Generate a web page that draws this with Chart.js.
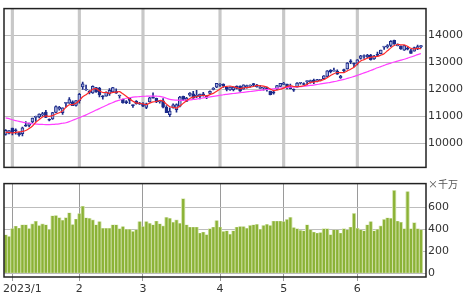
<!DOCTYPE html>
<html>
<head>
<meta charset="utf-8">
<script src="https://cdn.jsdelivr.net/npm/chart.js@4.4.0/dist/chart.umd.min.js"></script>
<style>
  body { margin: 0; background: #fff; }
  #wrap { position: relative; width: 470px; height: 295px; }
  canvas { position: absolute; left: 0; }
</style>
</head>
<body>
<div id="wrap">
  <canvas id="price" width="470" height="176" style="top:0"></canvas>
  <canvas id="vol" width="470" height="120" style="top:175px"></canvas>
</div>
<script>
// trading days (last slot is empty)
const dates = [
  "2022/12/29","2022/12/30",
  "2023/1/3","2023/1/4","2023/1/5","2023/1/6","2023/1/9","2023/1/10","2023/1/11","2023/1/12","2023/1/13","2023/1/17",
  "2023/1/18","2023/1/19","2023/1/20","2023/1/23","2023/1/24","2023/1/25","2023/1/26","2023/1/27","2023/1/30","2023/1/31",
  "2023/2/1","2023/2/2","2023/2/3","2023/2/6","2023/2/7","2023/2/8","2023/2/9","2023/2/10","2023/2/13","2023/2/14",
  "2023/2/15","2023/2/16","2023/2/17","2023/2/21","2023/2/22","2023/2/23","2023/2/24","2023/2/27","2023/2/28",
  "2023/3/1","2023/3/2","2023/3/3","2023/3/6","2023/3/7","2023/3/8","2023/3/9","2023/3/10","2023/3/13","2023/3/14",
  "2023/3/15","2023/3/16","2023/3/17","2023/3/20","2023/3/21","2023/3/22","2023/3/23","2023/3/24","2023/3/27","2023/3/28",
  "2023/3/29","2023/3/30","2023/3/31",
  "2023/4/3","2023/4/4","2023/4/5","2023/4/6","2023/4/10","2023/4/11","2023/4/12","2023/4/13","2023/4/14","2023/4/17",
  "2023/4/18","2023/4/19","2023/4/20","2023/4/21","2023/4/24","2023/4/25","2023/4/26","2023/4/27","2023/4/28",
  "2023/5/1","2023/5/2","2023/5/3","2023/5/4","2023/5/5","2023/5/8","2023/5/9","2023/5/10","2023/5/11","2023/5/12",
  "2023/5/15","2023/5/16","2023/5/17","2023/5/18","2023/5/19","2023/5/22","2023/5/23","2023/5/24","2023/5/25","2023/5/26",
  "2023/5/30","2023/5/31",
  "2023/6/1","2023/6/2","2023/6/5","2023/6/6","2023/6/7","2023/6/8","2023/6/9","2023/6/12","2023/6/13","2023/6/14",
  "2023/6/15","2023/6/16","2023/6/20","2023/6/21","2023/6/22","2023/6/23","2023/6/26","2023/6/27","2023/6/28","2023/6/29",
  "2023/6/30"
];

const opens = [
  10321,10368,10562,10462,10391,10351,10662,10660,10792,10955,10973,11050,11159,10877,10898,11146,11271,11133,11478,11484,
  11538,11400,11582,12086,11976,11907,11867,12069,12042,11727,11744,11829,11905,11913,11754,11631,11522,11694,11402,11554,
  11446,11465,11325,11530,11725,11666,11540,11577,11332,11060,11324,11241,11374,11742,11553,11785,11837,11736,11738,11830,
  11744,11846,12000,12083,12152,12193,12079,11981,11990,12118,12123,12011,12102,12118,12214,12090,12037,12046,12064,11928,
  11910,12017,12111,12183,12192,12083,11974,12084,12226,12191,12288,12282,12340,12303,12331,12392,12479,12707,12674,12680,
  12434,12734,12760,13060,12951,12974,13145,13220,13205,13270,13134,13304,13323,13567,13580,13636,13823,13622,13596,13460,
  13496,13441,13414,13500,13586
];
const highs = [
  10502,10468,10563,10531,10393,10594,10806,10745,10932,11005,11091,11143,11224,10905,11143,11385,11373,11314,11513,11690,
  11572,11586,11849,12269,12155,11950,12128,12073,12075,11765,11907,12029,12073,12022,11790,11639,11578,11700,11418,11585,
  11521,11507,11491,11700,11868,11680,11590,11659,11400,11310,11461,11462,11745,11752,11700,11876,11929,11962,11827,11885,
  11771,11945,12066,12221,12218,12204,12088,12097,12090,12132,12134,12167,12155,12165,12221,12183,12146,12082,12087,11934,
  11962,12150,12228,12263,12194,12197,12023,12250,12264,12242,12318,12344,12380,12374,12371,12510,12698,12731,12793,12722,
  12521,12750,12992,13104,12973,13110,13263,13281,13299,13300,13263,13385,13462,13594,13662,13808,13830,13695,13613,13638,
  13574,13485,13567,13640,13631
];
const lows = [
  10300,10347,10311,10333,10264,10265,10622,10600,10760,10805,10941,11000,10951,10823,10882,11131,11227,11071,11349,11475,
  11393,11379,11491,11994,11963,11834,11848,11890,11721,11634,11742,11777,11886,11850,11673,11490,11472,11466,11327,11451,
  11444,11355,11280,11520,11669,11508,11491,11309,11129,10982,11297,11150,11346,11590,11550,11743,11665,11695,11640,11745,
  11650,11820,11980,12060,12109,12071,11944,11956,11945,12020,11923,12006,12040,12082,12110,12080,12030,11970,11936,11797,
  11824,11990,12104,12170,12012,12020,11925,12080,12188,12178,12154,12232,12212,12276,12310,12368,12467,12608,12671,12553,
  12408,12622,12752,12954,12834,12910,13120,13150,13177,13080,13112,13223,13313,13484,13531,13590,13673,13618,13484,13450,
  13463,13332,13414,13478,13539
];
const closes = [
  10478,10466,10386,10459,10305,10569,10636,10743,10932,11001,11079,11095,10957,10852,11140,11364,11334,11313,11512,11622,
  11394,11585,11816,12201,12007,11888,12114,11910,11790,11718,11892,11961,12070,11855,11787,11492,11507,11590,11395,11466,
  11456,11379,11462,11689,11675,11530,11576,11338,11138,11188,11428,11434,11717,11630,11675,11860,11669,11787,11823,11768,
  11716,11926,12013,12221,12189,12126,11996,12087,12084,12031,11929,12166,12123,12157,12153,12157,12060,12072,11987,11799,
  11854,12142,12227,12212,12080,12025,11966,12235,12256,12180,12306,12329,12284,12366,12343,12500,12688,12657,12720,12560,
  12484,12698,12975,13017,12935,13101,13241,13230,13276,13105,13239,13259,13461,13573,13626,13782,13689,13667,13502,13630,
  13492,13335,13555,13591,13592
];

// moving averages
const ma5 = [
  10403,10401,10379,10400,10419,10437,10471,10542,10637,10776,10878,10970,11013,10997,11025,11082,11129,11201,11333,11429,
  11435,11485,11586,11724,11801,11899,12005,12024,11942,11884,11885,11854,11886,11899,11913,11833,11742,11646,11554,11490,
  11483,11457,11432,11490,11532,11547,11586,11562,11451,11354,11334,11305,11381,11479,11577,11663,11710,11724,11763,11781,
  11753,11804,11849,11929,12013,12095,12109,12124,12096,12065,12025,12059,12067,12081,12106,12151,12130,12120,12086,12015,
  11954,11971,12002,12047,12103,12137,12102,12104,12112,12132,12189,12261,12271,12293,12326,12364,12436,12511,12582,12625,
  12622,12624,12687,12747,12822,12945,13054,13105,13157,13191,13218,13222,13268,13327,13432,13540,13626,13667,13653,13654,
  13596,13525,13503,13521,13513
];
const ma25 = [
  10940,10910,10870,10840,10810,10780,10760,10740,10720,10710,10700,10695,10690,10690,10695,10705,10720,10740,10760,10800,
  10850,10900,10950,11000,11050,11110,11170,11230,11285,11345,11400,11460,11510,11560,11600,11640,11670,11690,11710,11720,
  11730,11740,11745,11750,11750,11745,11740,11710,11670,11630,11610,11600,11590,11595,11600,11610,11625,11640,11660,11680,
  11700,11720,11740,11760,11780,11800,11815,11830,11845,11860,11875,11890,11905,11920,11935,11950,11965,11980,11995,12005,
  12020,12035,12050,12060,12070,12080,12090,12095,12100,12115,12130,12145,12160,12180,12200,12220,12240,12260,12285,12310,
  12340,12370,12405,12440,12480,12520,12565,12610,12655,12700,12750,12800,12845,12890,12935,12975,13015,13050,13085,13120,
  13160,13200,13245,13290,13330
];

// volume, x 10 million
const volumes = [
  349,334,406,429,411,440,440,406,449,474,434,449,440,397,523,526,506,483,506,551,443,494,543,611,
  505,500,485,440,470,410,410,410,440,440,405,425,400,400,380,395,470,425,470,455,440,475,450,430,510,500,465,
  485,455,680,440,420,420,420,365,375,350,405,420,480,420,380,385,355,385,420,425,425,410,435,440,445,
  400,435,445,435,475,475,475,470,490,510,415,405,390,385,440,395,375,365,370,405,405,350,395,395,365,
  405,395,420,545,410,395,385,440,470,385,400,430,490,505,500,755,475,465,405,745,405,460,405,395
];

const priceTicks = [10000, 11000, 12000, 13000, 14000];
const volGrid = [0, 100, 200, 300, 400, 500, 600, 700];
const volTicks = [0, 200, 400, 600];
const volUnit = "×千万";

// first trading day of each month gets a grid line and a label
const monthStart = dates.map((d, i) => i > 0 && d.split("/")[1] !== dates[i - 1].split("/")[1]);
const monthLabel = dates.map(d => {
  const p = d.split("/");
  return p[1] === "1" ? p[0] + "/1" : p[1];
});

Chart.defaults.font.family = "'DejaVu Sans', Verdana, sans-serif";
Chart.defaults.font.size = 11;
Chart.defaults.color = "#333";
Chart.defaults.animation = false;

const NAVY = "#1c2b8a";
const UP_FILL = "#aab2e0";
const P_MIN = 9100, P_MAX = 15000;

const framePlugin = {
  id: "frame",
  afterDraw(chart) {
    const { ctx, chartArea: a } = chart;
    ctx.save();
    ctx.strokeStyle = "#222";
    ctx.lineWidth = 1.5;
    ctx.strokeRect(a.left, a.top, a.right - a.left, a.bottom - a.top);
    ctx.restore();
  }
};

const fixRight = axis => { axis.width = 44; };

new Chart(document.getElementById("price"), {
  data: {
    labels: dates,
    datasets: [
      {
        type: "line", data: ma5, borderColor: "#ff2a2a", borderWidth: 1.2,
        pointRadius: 0, tension: 0.3, order: 0
      },
      {
        type: "line", data: ma25, borderColor: "#ff40ff", borderWidth: 1.2,
        pointRadius: 0, tension: 0.3, order: 0
      },
      {
        // month separators, full height, behind everything
        type: "bar", data: monthStart.map(m => m ? [P_MIN, P_MAX] : null),
        backgroundColor: "#c8c8c8", barThickness: 2.5, grouped: false, order: 3
      },
      {
        type: "bar", data: lows.map((l, i) => [l, highs[i]]),
        backgroundColor: NAVY, barThickness: 1, grouped: false, order: 2
      },
      {
        type: "bar", data: opens.map((o, i) => [Math.min(o, closes[i]), Math.max(o, closes[i])]),
        backgroundColor: ctx => closes[ctx.dataIndex] >= opens[ctx.dataIndex] ? UP_FILL : NAVY,
        borderColor: NAVY, borderWidth: 1, borderSkipped: false,
        barThickness: 3, minBarLength: 1, grouped: false, order: 1
      }
    ]
  },
  options: {
    responsive: false,
    layout: { padding: { left: 4, top: 4, bottom: 4, right: 0 } },
    plugins: { legend: { display: false }, tooltip: { enabled: false } },
    scales: {
      x: {
        type: "category", offset: true,
        ticks: { display: false, autoSkip: false },
        border: { display: false },
        grid: { display: false },
        afterFit: axis => { axis.height = 0; }
      },
      y: {
        position: "right", min: P_MIN, max: P_MAX,
        afterBuildTicks: axis => { axis.ticks = priceTicks.map(v => ({ value: v })); },
        ticks: { padding: 2, color: "#333", callback: v => String(v) },
        border: { display: false },
        grid: { color: "#bdbdbd", borderDash: [3, 2], drawTicks: false, lineWidth: 1 },
        afterFit: fixRight
      }
    }
  },
  plugins: [framePlugin]
});

new Chart(document.getElementById("vol"), {
  type: "bar",
  data: {
    labels: dates,
    datasets: [
      {
        data: volumes, backgroundColor: "#8bb236",
        barPercentage: 0.68, categoryPercentage: 1, grouped: false, order: 0
      },
      {
        data: volumes, backgroundColor: "#cfe0a6",
        barPercentage: 1, categoryPercentage: 1, grouped: false, order: 1
      }
    ]
  },
  options: {
    responsive: false,
    layout: { padding: { left: 4, top: 3, bottom: 0, right: 0 } },
    plugins: { legend: { display: false }, tooltip: { enabled: false } },
    scales: {
      x: {
        type: "category", offset: true,
        ticks: { display: false, autoSkip: false },
        border: { display: false },
        grid: {
          offset: false, drawTicks: true, tickLength: 4, lineWidth: 1,
          color: ctx => monthStart[ctx.index] ? "#9a9a9a" : "rgba(0,0,0,0)",
          borderDash: [1, 1]
        },
        afterFit: axis => { axis.height = 18; }
      },
      y: {
        position: "right", min: -35, max: 820,
        afterBuildTicks: axis => { axis.ticks = volGrid.map(v => ({ value: v })); },
        ticks: { padding: 2, color: "#333", callback: v => volTicks.includes(v) ? String(v) : "" },
        border: { display: false },
        grid: { color: "#bdbdbd", borderDash: [3, 2], drawTicks: false, lineWidth: 1 },
        afterFit: fixRight
      }
    }
  },
  plugins: [framePlugin, {
    id: "labels",
    afterDraw(chart) {
      const { ctx, chartArea: a, scales } = chart;
      ctx.save();
      ctx.fillStyle = "#333";
      ctx.font = "11px 'DejaVu Sans', Verdana, sans-serif";
      ctx.textBaseline = "middle";
      ctx.textAlign = "left";
      monthStart.forEach((m, i) => {
        if (!m) return;
        const text = monthLabel[i];
        const w = ctx.measureText(text).width;
        let x = scales.x.getPixelForValue(i) - w / 2;
        if (x < a.left - 1) x = a.left - 1;
        ctx.fillText(text, x, a.bottom + 12);
      });
      ctx.font = "10px 'Noto Sans CJK JP', sans-serif";
      ctx.fillStyle = "#555";
      ctx.fillText(volUnit, a.right + 2, a.top + 1);
      ctx.restore();
    }
  }]
});
</script>
</body>
</html>
